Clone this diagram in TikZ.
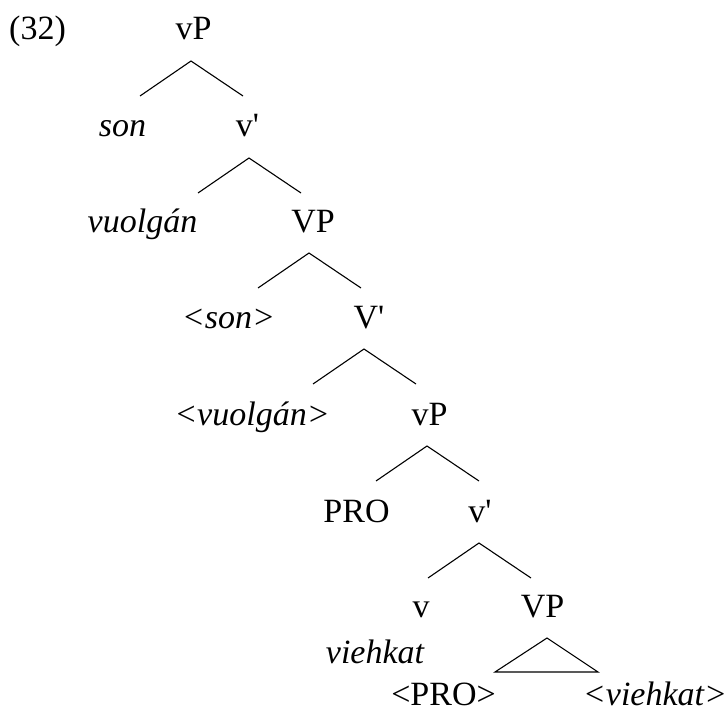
\documentclass[tikz,border=0pt]{standalone}
\usepackage{fontspec}
\setmainfont{Liberation Serif}
\usetikzlibrary{calc}
\tikzset{
  lbl/.style={anchor=base, inner sep=0pt, font=\fontsize{34bp}{40bp}\selectfont},
  it/.style={lbl, font=\fontsize{34bp}{40bp}\selectfont\itshape},
  branchline/.style={line width=1.1bp, line join=miter}
}
\newcommand\mybranch[2]{\draw[branchline] ([shift={(#2,21)}]#1.base) +(-51,35) -- +(0,0) -- +(52,35);}
\begin{document}
\begin{tikzpicture}[x=1bp,y=-1bp]
\useasboundingbox (0,0) rectangle (728,713);
\node[lbl, anchor=base west] (ex) at (9,40) {(32)};
\node[lbl] (vP1) at (193.5,40) {vP};
\node[it] (son) at (122.5,137) {son};
\node[lbl] (vb1) at (247.5,137) {v\textquotesingle};
\node[it] (vuo) at (142.5,232) {vuolgán};
\node[lbl] (VP1) at (313,232) {VP};
\node[it] (tson) at (228.5,328) {<son>};
\node[lbl] (Vb) at (369,328) {V\textquotesingle};
\node[it] (tvuo) at (252,425) {<vuolgán>};
\node[lbl] (vP2) at (429.5,425) {vP};
\node[lbl] (PRO) at (356.5,522) {PRO};
\node[lbl] (vb2) at (480,522) {v\textquotesingle};
\node[lbl] (v) at (421,617) {v};
\node[lbl] (VP2) at (542.5,617) {VP};
\node[it] (vie) at (375,663) {viehkat};
\node[lbl] (tPRO) at (443.5,705) {<PRO>};
\node[it] (tvie) at (655,705) {<viehkat>};
\mybranch{vP1}{-2.5}
\mybranch{vb1}{1.5}
\mybranch{VP1}{-4}
\mybranch{Vb}{-5}
\mybranch{vP2}{-2.5}
\mybranch{vb2}{-1}
\draw[branchline] ([shift={(4.5,21)}]VP2.base) -- +(-52,34) -- +(51,34) -- cycle;
\end{tikzpicture}
\end{document}
